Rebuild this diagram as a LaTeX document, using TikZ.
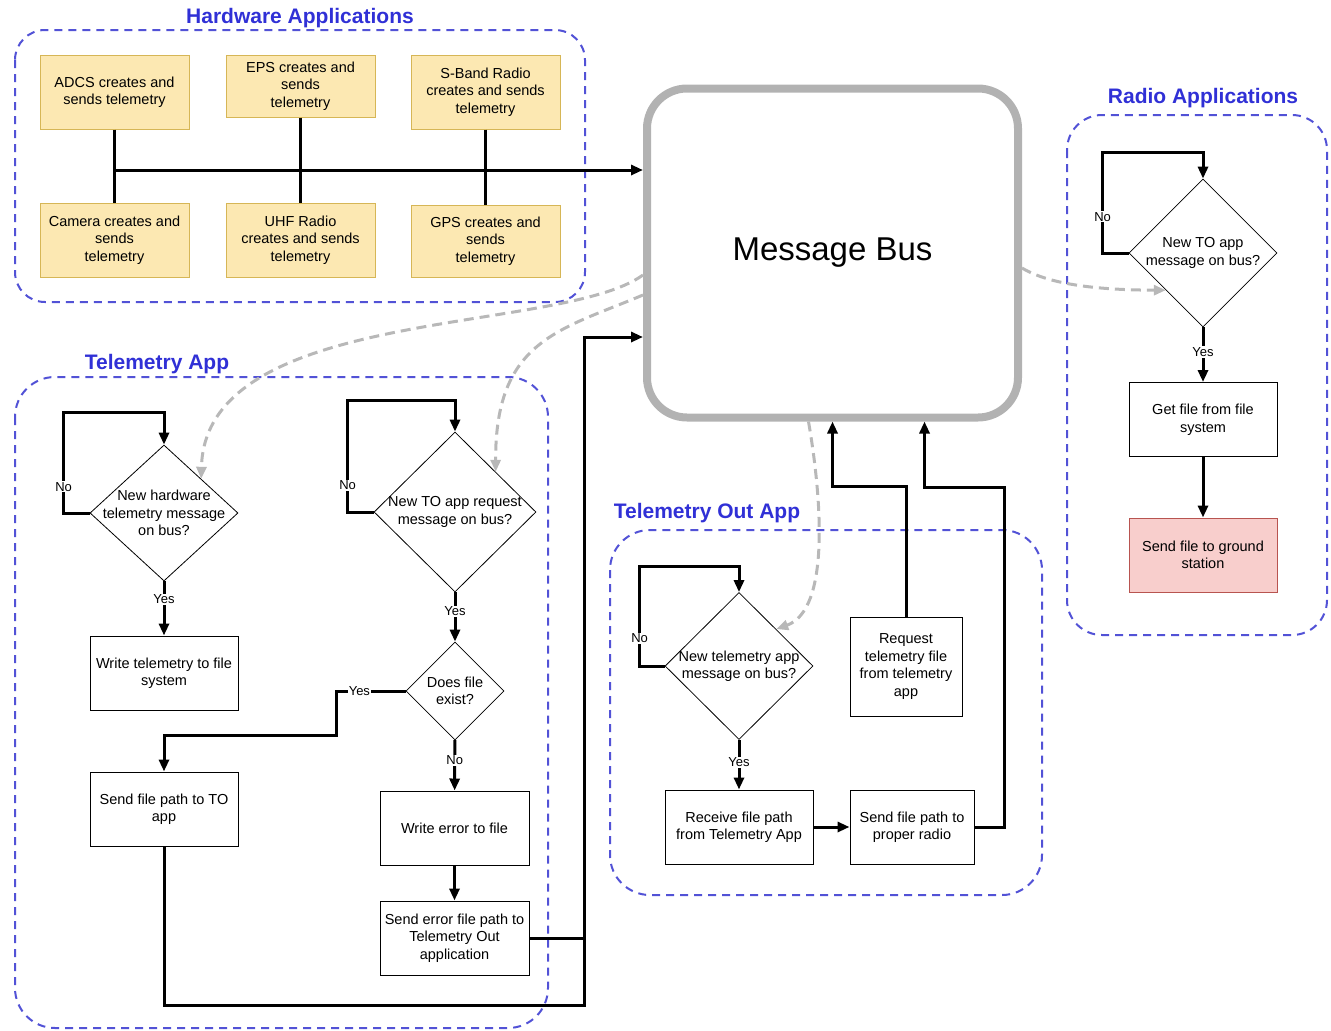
\documentclass[tikz,border=0pt]{standalone}
\usepackage{fontspec}
\setmainfont{Liberation Sans}
\usetikzlibrary{arrows.meta,shapes.geometric}
\definecolor{grpblue}{RGB}{82,82,214}
\definecolor{ttlblue}{RGB}{48,48,214}
\definecolor{hwfill}{RGB}{252,232,178}
\definecolor{hwdraw}{RGB}{214,182,86}
\definecolor{gndfill}{RGB}{248,206,204}
\definecolor{gnddraw}{RGB}{184,84,80}

\begin{document}
\begin{tikzpicture}[x=1pt,y=-1pt,font=\fontsize{14.5}{17.5}\selectfont,
  box/.style={draw,line width=1pt,align=center,inner sep=2pt,minimum width=148pt,minimum height=74pt},
  hw/.style={box,fill=hwfill,draw=hwdraw,minimum width=149pt},
  dec/.style={draw,diamond,line width=0.8pt,align=center,inner sep=-10pt},
  grp/.style={draw=grpblue,line width=2pt,dash pattern=on 8pt off 6pt,rounded corners=40pt},
  grptitle/.style={text=ttlblue,font=\fontsize{21}{25}\selectfont\bfseries},
  lbl/.style={fill=white,inner sep=1pt,font=\fontsize{13}{15}\selectfont},
  wire/.style={line width=3pt},
  flow/.style={wire,-{Triangle[length=12pt,width=10pt]}},
  msg/.style={line width=3pt,black!28,dash pattern=on 10pt off 6pt,-{Triangle[length=12pt,width=10pt]}}]
\useasboundingbox (0,0) rectangle (1331,1031);
\draw[grp,rounded corners=30pt] (15,30) rectangle (585,302);
\draw[grp] (15,377) rectangle (548,1028);
\draw[grp] (610,530) rectangle (1042,895);
\draw[grp,rounded corners=35pt] (1067,115) rectangle (1327,635);
\node[grptitle] (hwtitle) at (300,18) {Hardware Applications};
\node[grptitle] (tatitle) at (157,364) {Telemetry App};
\node[grptitle] (totitle) at (707,513) {Telemetry Out App};
\node[grptitle] (ratitle) at (1203,98) {Radio Applications};
\node[draw=black!30,line width=8pt,rounded corners=40pt,minimum width=371pt,minimum height=329pt,
  font=\fontsize{33}{40}\selectfont] (bus) at (832.5,253) {Message Bus};
\foreach \n/\x/\y/\h/\t in {adcs/114.5/92/74/{ADCS creates and\\sends telemetry},
  eps/300.5/86/62/{EPS creates and\\sends\\telemetry},
  sband/485.5/92/74/{S-Band Radio\\creates and sends\\telemetry},
  cam/114.5/240/74/{Camera creates and\\sends\\telemetry},
  uhf/300.5/240/74/{UHF Radio\\creates and sends\\telemetry},
  gps/485.5/241/72/{GPS creates and\\sends\\telemetry}}
  \node[hw,minimum height=\h pt] (\n) at (\x,\y) {\t};
\foreach \a/\b in {adcs/cam,eps/uhf,sband/gps}
  \draw[wire] (\a) -- (\b);
\coordinate (hwbus) at (114.5,170);
\draw[flow] (hwbus) -- (hwbus -| bus.west);
\node[dec,minimum width=148pt,minimum height=136pt] (newhw) at (164,513) {New hardware\\telemetry message\\on bus?};
\node[box] (wtel) at (164,673) {Write telemetry to file\\system};
\node[dec,minimum width=162pt,minimum height=160pt] (newreq) at (455,512) {New TO app request\\message on bus?};
\node[dec,minimum width=98pt,minimum height=98pt] (exist) at (455,691) {Does file\\exist?};
\node[box] (sendto) at (164,809) {Send file path to TO\\app};
\node[box,minimum width=149pt] (werr) at (454.5,828) {Write error to file};
\node[box,minimum width=149pt] (senderr) at (454.5,938) {Send error file path to\\Telemetry Out\\application};
\draw[flow] (newhw.west) -- ++(-26,0) |- ([yshift=32pt]newhw.north) node[lbl,pos=.13] {No} -- (newhw.north);
\draw[flow] (newhw) -- (wtel) node[lbl,pos=.33] {Yes};
\draw[flow] (newreq.west) -- ++(-26,0) |- ([yshift=31pt]newreq.north) node[lbl,pos=.12] {No} -- (newreq.north);
\draw[flow] (newreq) -- (exist) node[lbl,pos=.38] {Yes};
\draw[flow] (exist.west) -- ++(-69,0) node[lbl,pos=.67] {Yes} -- ++(0,44) -| (sendto.north);
\draw[flow] (exist) -- (werr) node[lbl,pos=.4] {No};
\draw[flow] (werr) -- (senderr);
\coordinate (trunk) at (584,1005);
\coordinate (trunktop) at (584,337);
\draw[wire] (senderr.east) -- (senderr.east -| trunk);
\draw[flow] (sendto.south) |- (trunk) -- (trunktop) -- (trunktop -| bus.west);
\node[dec,minimum width=148pt,minimum height=147pt] (newtel) at (739,666) {New telemetry app\\message on bus?};
\node[box] (recv) at (739,827) {Receive file path\\from Telemetry App};
\node[box,minimum width=124pt] (sendradio) at (912,827) {Send file path to\\proper radio};
\node[box,minimum width=112pt,minimum height=99pt] (req) at (906,666.5) {Request\\telemetry file\\from telemetry\\app};
\draw[flow] (newtel.west) -- ++(-25,0) |- ([yshift=26pt]newtel.north) node[lbl,pos=.14] {No} -- (newtel.north);
\draw[flow] (newtel) -- (recv) node[lbl,pos=.45] {Yes};
\draw[flow] (recv) -- (sendradio);
\draw[flow] (req.north) -- ++(0,-130) -| (bus.south);
\draw[flow] (sendradio.east) -| ++(30,-340) -| ([xshift=92pt]bus.south);
\node[dec,minimum width=148pt,minimum height=148pt] (newto) at (1203,253) {New TO app\\message on bus?};
\node[box] (getf) at (1203,419.5) {Get file from file\\system};
\node[box,fill=gndfill,draw=gnddraw] (ground) at (1203,555) {Send file to ground\\station};
\draw[flow] (newto.west) -- ++(-26,0) |- ([yshift=26pt]newto.north) node[lbl,pos=.18] {No} -- (newto.north);
\draw[flow] (newto) -- (getf) node[lbl,pos=.45] {Yes};
\draw[flow] (getf) -- (ground);
\draw[msg] ([yshift=-22pt]bus.west) .. controls (560,335) and (205,305) .. (newhw.north east);
\draw[msg] ([yshift=-42pt]bus.west) .. controls (560,330) and (495,340) .. (newreq.north east);
\draw[msg] ([xshift=-24pt]bus.south) .. controls (822,500) and (830,610) .. (newtel.north east);
\draw[msg] ([yshift=-15pt]bus.east) .. controls (1050,285) and (1100,290) .. (newto.south west);
\end{tikzpicture}
\end{document}
